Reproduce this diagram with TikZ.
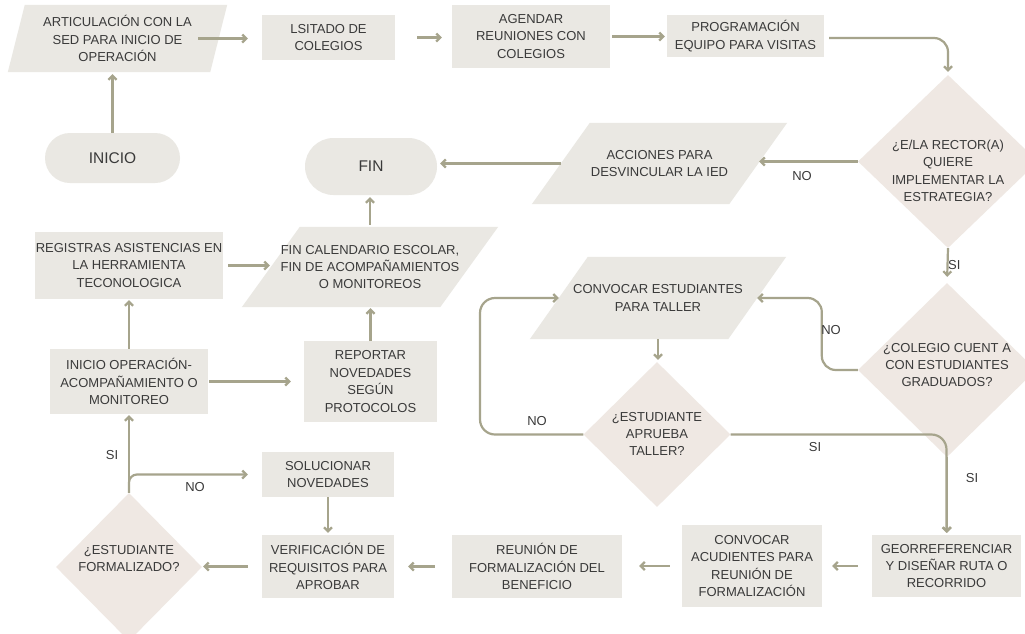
\documentclass[tikz,border=0pt]{standalone}
\usepackage{fontspec}
\setmainfont{Liberation Sans}
\usetikzlibrary{shapes.geometric,arrows.meta,backgrounds}
\definecolor{boxc}{HTML}{EAE8E3}
\definecolor{diac}{HTML}{EFE8E3}
\definecolor{linec}{HTML}{A6A48C}
\definecolor{txtc}{HTML}{3A3A3A}
\newcommand{\parafill}[2]{\fill[boxc] ([xshift=#2]#1.north west) -- (#1.north east) -- ([xshift=-#2]#1.south east) -- (#1.south west) -- cycle;}
\begin{document}
\begin{tikzpicture}[x=1pt,y=-1pt,
  font=\fontsize{13}{17.4}\selectfont, text=txtc,
  box/.style={rectangle, fill=boxc, inner sep=0pt, align=center},
  pbox/.style={rectangle, inner sep=0pt, align=center},
  dia/.style={diamond, fill=diac, inner sep=0pt},
  dtext/.style={inner sep=0pt, align=center},
  stad/.style={rectangle, fill=boxc, inner sep=0pt, align=center, font=\fontsize{15.5}{18}\selectfont},
  arr/.style={draw=linec, line width=2.2pt, -{Straight Barb[length=4pt,width=8pt]}},
  lbl/.style={inner sep=0pt}]
\clip (0,0) rectangle (1025,633);
\begin{pgfonlayer}{background}
\fill[white] (0,0) rectangle (1025,633);
\end{pgfonlayer}

% nodes
\node[pbox, minimum width=219pt, minimum height=67pt] (art) at (117.5,38.5) {ARTICULACIÓN CON LA\\SED PARA INICIO DE\\OPERACIÓN};
\node[box, minimum width=133pt, minimum height=45pt] (lsit) at (328.5,37.5) {LSITADO DE\\COLEGIOS};
\node[box, minimum width=158pt, minimum height=63pt] (agen) at (531,36.5) {AGENDAR\\REUNIONES CON\\COLEGIOS};
\node[box, minimum width=157pt, minimum height=42pt] (prog) at (745.5,36) {PROGRAMACIÓN\\EQUIPO PARA VISITAS};
\node[dia, minimum width=180pt, minimum height=173pt] (d1) at (948,161.5) {};
\node[dtext] (d1t) at (948,171) {¿E/LA RECTOR(A)\\QUIERE\\IMPLEMENTAR LA\\ESTRATEGIA?};
\node[pbox, minimum width=255pt, minimum height=81pt] (acc) at (659.5,163.5) {ACCIONES PARA\\DESVINCULAR LA IED};
\node[stad, rounded corners=28.5pt, minimum width=132pt, minimum height=57pt] (fin) at (371,166.5) {FIN};
\node[stad, rounded corners=25pt, minimum width=135pt, minimum height=50pt] (ini) at (112.5,158) {INICIO};
\node[pbox, minimum width=256pt, minimum height=80pt] (fcal) at (370,267) {FIN CALENDARIO ESCOLAR,\\FIN DE ACOMPAÑAMIENTOS\\O MONITOREOS};
\node[box, minimum width=188pt, minimum height=67pt] (reg) at (129,265.5) {REGISTRAS ASISTENCIAS EN\\LA HERRAMIENTA\\TECONOLOGICA};
\node[box, minimum width=158pt, minimum height=65pt] (iop) at (129,381.5) {INICIO OPERACIÓN-\\ACOMPAÑAMIENTO O\\MONITOREO};
\node[box, minimum width=133pt, minimum height=81pt] (rep) at (370.5,381.5) {REPORTAR\\NOVEDADES\\SEGÚN\\PROTOCOLOS};
\node[box, minimum width=132pt, minimum height=45pt] (sol) at (328,474.5) {SOLUCIONAR\\NOVEDADES};
\node[box, minimum width=132pt, minimum height=63pt] (ver) at (328,566.5) {VERIFICACIÓN DE\\REQUISITOS PARA\\APROBAR};
\node[dia, minimum width=146pt, minimum height=148pt] (d4) at (129,567) {};
\node[dtext] (d4t) at (129,558.5) {¿ESTUDIANTE\\FORMALIZADO?};
\node[box, minimum width=170pt, minimum height=63pt] (reu) at (537,566.5) {REUNIÓN DE\\FORMALIZACIÓN DEL\\BENEFICIO};
\node[box, minimum width=140pt, minimum height=82pt] (cac) at (752,566) {CONVOCAR\\ACUDIENTES PARA\\REUNIÓN DE\\FORMALIZACIÓN};
\node[box, minimum width=149pt, minimum height=62pt] (geo) at (946.5,566) {GEORREFERENCIAR\\Y DISEÑAR RUTA O\\RECORRIDO};
\node[dia, minimum width=178pt, minimum height=174pt] (d2) at (947,370) {};
\node[dtext] (d2t) at (947,365) {¿COLEGIO CUENT A\\CON ESTUDIANTES\\GRADUADOS?};
\node[pbox, minimum width=256pt, minimum height=82pt] (cest) at (658,298) {CONVOCAR ESTUDIANTES\\PARA TALLER};
\node[dia, minimum width=147pt, minimum height=145pt] (d3) at (657,434.5) {};
\node[dtext] (d3t) at (657,434) {¿ESTUDIANTE\\APRUEBA\\TALLER?};

% parallelogram fills
\begin{pgfonlayer}{background}
\parafill{art}{17pt}
\parafill{acc}{58pt}
\parafill{fcal}{58pt}
\parafill{cest}{58pt}
\end{pgfonlayer}

% helper coordinates on slanted edges
\coordinate (accR) at ([xshift=-28pt]acc.east);
\coordinate (accL) at ([xshift=29pt]acc.west);
\coordinate (fcalL) at ([xshift=28pt]fcal.west);
\coordinate (cestR) at ([xshift=-29pt]cest.east);
\coordinate (cestL) at ([xshift=29pt]cest.west);
\coordinate (artR) at ([xshift=-29pt]art.east);
\coordinate (loopL) at (480,434.5);

% connectors
\draw[arr, shorten >=14pt] (artR) -- (artR -| lsit.west);
\draw[arr, shorten <=22pt, shorten >=10pt] (lsit.east) -- (lsit.east -| agen.west);
\draw[arr, shorten <=2pt, shorten >=2pt] (agen.east) -- (agen.east -| prog.west);
\draw[arr, rounded corners=14pt, shorten <=5pt, shorten >=3pt] ([yshift=-2pt]prog.east) -| (d1.north);
\draw[arr] (d1.west) -- (d1.west -| accR);
\node[lbl] at (802,176) {NO};
\draw[arr, shorten >=3pt] (accL) -- (accL -| fin.east);
\draw[arr, shorten >=2pt] (ini.north) -- (ini.north |- art.south);
\draw[arr, shorten <=2pt, shorten >=2pt] (fcal.north) -- (fcal.north |- fin.south);
\draw[arr, shorten <=5pt] (reg.east) -- (reg.east -| fcalL);
\draw[arr, shorten >=1pt] (rep.north) -- (rep.north |- fcal.south);
\draw[arr, shorten <=1pt, shorten >=13pt] (iop.east) -- (iop.east -| rep.west);
\draw[arr, shorten >=1pt] (iop.north) -- (iop.north |- reg.south);
\draw[arr, shorten >=1pt] (d4.north) -- (d4.north |- iop.south);
\node[lbl] at (112,455) {SI};
\draw[arr, rounded corners=8pt, shorten >=14pt] (d4.north) |- (sol.west);
\node[lbl] at (195,487) {NO};
\draw[arr, shorten >=2pt] (sol.south) -- (sol.south |- ver.north);
\draw[arr, shorten <=14pt, shorten >=1pt] (ver.west) -- (ver.west -| d4.east);
\draw[arr, shorten <=17pt, shorten >=14pt] (reu.west) -- (reu.west -| ver.east);
\draw[arr, shorten <=12pt, shorten >=17pt] (cac.west) -- (cac.west -| reu.east);
\draw[arr, shorten <=14pt, shorten >=10pt] (geo.west) -- (geo.west -| cac.east);
\draw[arr, shorten >=6pt] (d1.south) -- (d2.north);
\node[lbl, anchor=west] at (948,265) {SI};
\draw[arr, rounded corners=14pt] (d2.west) -- ++(-36pt,0) |- (cestR);
\node[lbl] at (831,330) {NO};
\draw[arr, shorten >=2pt] (cest.south) -- (cest.south |- d3.north);
\draw[arr, rounded corners=15pt] (d3.west) -- (loopL) |- (cestL);
\node[lbl] at (537,421) {NO};
\draw[arr, rounded corners=15pt, shorten >=2pt] (d3.east) -| (geo.north);
\node[lbl] at (815,447) {SI};
\draw[arr, shorten >=2pt] (d2.south) -- (d2.south |- geo.north);
\node[lbl] at (972,478) {SI};
\end{tikzpicture}
\end{document}
